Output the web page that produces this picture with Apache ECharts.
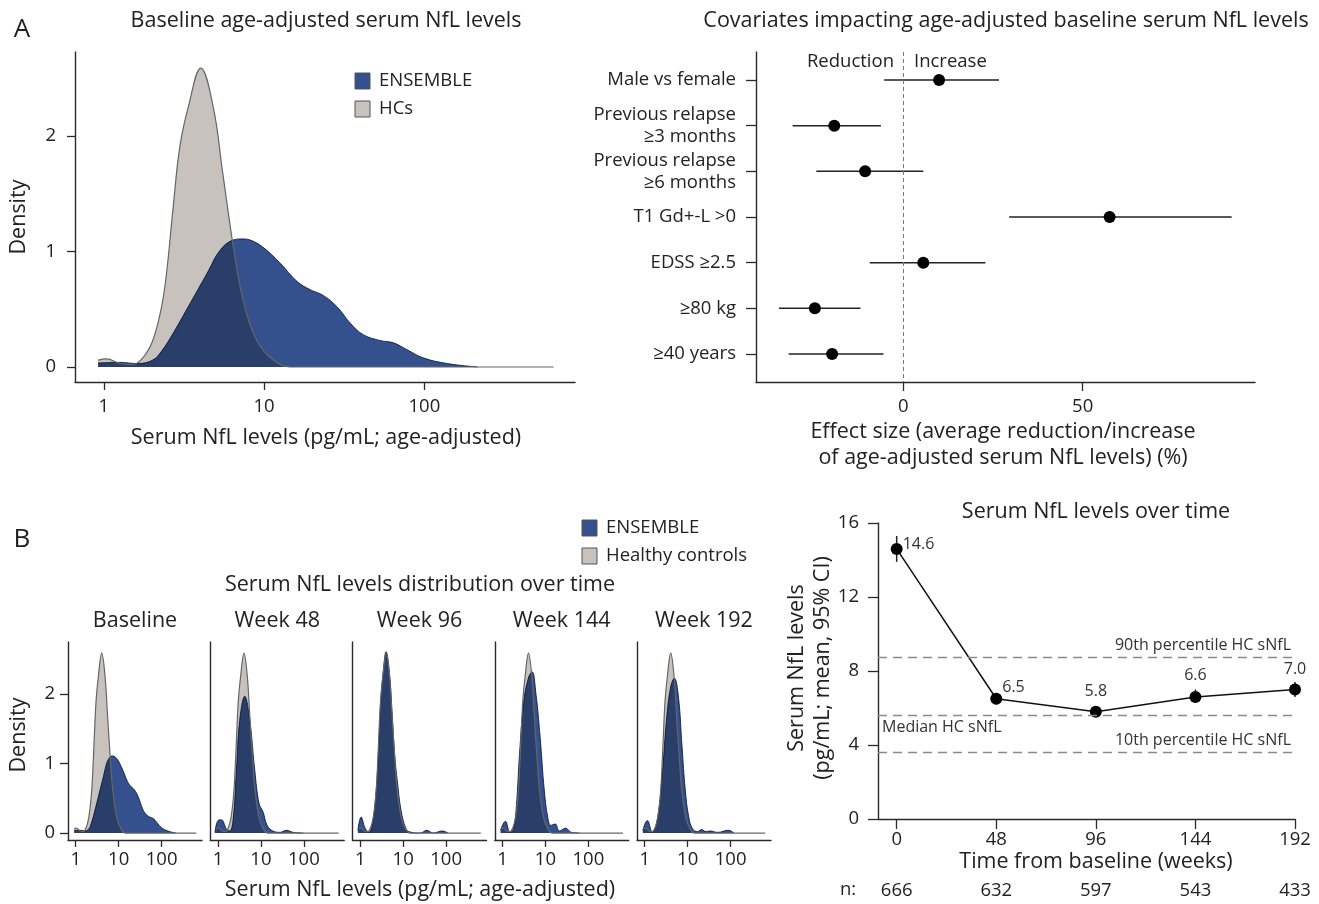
<!DOCTYPE html>
<html lang="en">
<head>
<meta charset="utf-8">
<title>Serum NfL levels</title>
<script src="https://cdn.jsdelivr.net/npm/echarts@6/dist/echarts.min.js"></script>
<style>
  html, body { margin: 0; background: #fff; }
  #box { width: 1319px; height: 904px; }
</style>
</head>
<body>
<div id="box"></div>
<script>
// ---- density curves, x = serum NfL (pg/mL), y = density ----
var hcNfl   = [0.92, 1.04, 1.26, 1.5, 1.75, 2.02, 2.29, 2.46, 2.71, 2.98, 3.36, 4.03, 4.82, 5.52, 6.43, 7.4, 9.0, 11.4, 14.5, 30, 640];
var hcDens  = [0.06, 0.07, 0.03, 0.02, 0.08, 0.23, 0.52, 0.81, 1.39, 1.91, 2.25, 2.59, 2.25, 1.68, 1.04, 0.58, 0.23, 0.06, 0.0, 0.0, 0.0];

var baseNfl  = [0.92, 1.26, 1.61, 2.02, 2.3, 2.7, 3.45, 4.4, 5.3, 6.4, 7.3, 8.2, 9.8, 12.6, 16.1, 19.4, 23.4, 28.6, 34.5, 41.6, 52.7, 64, 78, 98, 139, 215];
var baseDens = [0.035, 0.04, 0.03, 0.06, 0.14, 0.29, 0.55, 0.81, 1.01, 1.10, 1.11, 1.10, 1.04, 0.90, 0.74, 0.67, 0.62, 0.52, 0.38, 0.28, 0.23, 0.21, 0.15, 0.08, 0.03, 0.0];

var w48Nfl  = [0.85, 1.0, 1.2, 1.57, 1.87, 2.24, 2.68, 3.2, 4.2, 5.5, 7.2, 9.1, 11.3, 13.5, 17.6, 27.6, 39.6, 56, 97];
var w48Dens = [0.01, 0.18, 0.19, 0.06, 0.03, 0.18, 0.90, 1.62, 1.97, 1.62, 0.90, 0.42, 0.30, 0.13, 0.04, 0.01, 0.04, 0.01, 0.0];

var w96Nfl  = [0.88, 1.05, 1.3, 1.6, 2.0, 2.3, 2.5, 2.75, 3.0, 3.4, 4.0, 4.8, 5.5, 6.4, 7.4, 8.9, 11.5, 13.8, 25, 35.5, 50, 81, 110];
var w96Dens = [0.04, 0.23, 0.07, 0.01, 0.2, 0.55, 0.85, 1.4, 1.9, 2.3, 2.61, 2.3, 1.75, 1.1, 0.72, 0.33, 0.07, 0.02, 0.0, 0.04, 0.0, 0.03, 0.0];

var w144Nfl  = [0.9, 1.17, 1.5, 1.8, 2.1, 2.5, 3.1, 4.0, 4.9, 6.0, 7.5, 9.4, 11.3, 13.4, 17, 21, 29.5, 40, 62];
var w144Dens = [0.04, 0.17, 0.01, 0.05, 0.38, 1.15, 1.87, 2.23, 2.32, 2.01, 1.39, 0.62, 0.23, 0.11, 0.13, 0.03, 0.07, 0.01, 0.0];

var w192Nfl  = [0.9, 1.15, 1.5, 2.0, 2.6, 3.2, 4.0, 4.9, 6.1, 7.4, 8.8, 10.6, 13, 17, 21, 27, 33, 50, 89, 120];
var w192Dens = [0.04, 0.18, 0.01, 0.23, 0.9, 1.62, 2.1, 2.23, 1.96, 1.24, 0.62, 0.23, 0.06, 0.02, 0.05, 0.02, 0.03, 0.01, 0.04, 0.0];

var panelNames = ['Baseline', 'Week 48', 'Week 96', 'Week 144', 'Week 192'];
var logTicks = [0, 1, 2];       // 1, 10, 100
var densTicks = [0, 1, 2];

// ---- covariates (forest plot) ----
var covLabels = ['Male vs female', 'Previous relapse\n\u22653 months', 'Previous relapse\n\u22656 months',
                 'T1 Gd+-L >0', 'EDSS \u22652.5', '\u226580 kg', '\u226540 years'];
var covEffect = [10.0, -19.2, -10.6, 57.5, 5.6, -24.6, -19.8];
var covLow    = [-5.3, -30.8, -24.2, 29.5, -9.3, -34.6, -31.9];
var covHigh   = [26.7, -6.2, 5.6, 91.5, 22.9, -11.9, -5.5];

// ---- serum NfL over time ----
var weeks   = [0, 48, 96, 144, 192];
var meanNfl = [14.6, 6.5, 5.8, 6.6, 7.0];
var ciLow   = [13.9, 6.2, 5.6, 6.3, 6.6];
var ciHigh  = [15.3, 6.8, 6.0, 7.0, 7.4];
var nCounts = [666, 632, 597, 543, 433];
var hcRefVals  = [8.75, 5.6, 3.6];
var hcRefNames = ['90th percentile HC sNfL', 'Median HC sNfL', '10th percentile HC sNfL'];

var FONT = 'Open Sans';
var INK = '#222';
var BLUE = '#34518e', BLUE_EDGE = '#2a4274', GREY = '#c7c2bd', GREY_EDGE = '#666';
var TICK_FS = 18.5, TITLE_FS = 21.5;

function toXY(nfl, dens) {
    return nfl.map(function (v, i) { return [Math.log10(v), dens[i]]; });
}

function axisLineStyle() {
    return { show: true, onZero: false, lineStyle: { color: '#2a2a2a', width: 1.4 } };
}

function logXAxis(g, margin, tickLen) {
    return {
        type: 'value', gridIndex: g, min: -0.18, max: 2.94,
        axisLine: axisLineStyle(),
        axisTick: { show: true, customValues: logTicks, length: tickLen, lineStyle: { color: '#2a2a2a', width: 1.3 } },
        axisLabel: { customValues: logTicks, margin: margin, fontSize: TICK_FS, fontFamily: FONT, color: INK,
                     formatter: function (v) { return String(Math.round(Math.pow(10, v))); } },
        splitLine: { show: false }
    };
}

function densYAxis(g, min, max, showLabels, margin) {
    return {
        type: 'value', gridIndex: g, min: min, max: max,
        axisLine: axisLineStyle(),
        axisTick: { show: showLabels, customValues: densTicks, length: 8, lineStyle: { color: '#2a2a2a', width: 1.3 } },
        axisLabel: { show: showLabels, customValues: densTicks, margin: margin, fontSize: TICK_FS, fontFamily: FONT, color: INK },
        splitLine: { show: false }
    };
}

// HC fill underneath, ENSEMBLE multiplied over it, HC outline on top
function hcFill(g) {
    return {
        type: 'line', xAxisIndex: g, yAxisIndex: g, data: toXY(hcNfl, hcDens),
        smooth: 0.4, symbol: 'none', silent: true, z: 2,
        lineStyle: { width: 0 },
        areaStyle: { color: GREY, opacity: 1 }
    };
}
function hcEdge(g) {
    return {
        type: 'line', xAxisIndex: g, yAxisIndex: g, data: toXY(hcNfl, hcDens),
        smooth: 0.4, symbol: 'none', silent: true, z: 4,
        lineStyle: { color: GREY_EDGE, width: 1.2 }
    };
}
function ensSeries(g, nfl, dens) {
    return {
        type: 'line', xAxisIndex: g, yAxisIndex: g, data: toXY(nfl, dens),
        smooth: 0.4, symbol: 'none', silent: true, z: 3, blendMode: 'multiply',
        lineStyle: { color: BLUE_EDGE, width: 1 },
        areaStyle: { color: BLUE, opacity: 1 }
    };
}

// horizontal/vertical interval drawn through the axes
function intervalRenderer(horizontal, width) {
    return function (params, api) {
        var a, b;
        if (horizontal) {
            a = api.coord([api.value(1), api.value(0)]);
            b = api.coord([api.value(2), api.value(0)]);
        } else {
            a = api.coord([api.value(0), api.value(1)]);
            b = api.coord([api.value(0), api.value(2)]);
        }
        return { type: 'line', shape: { x1: a[0], y1: a[1], x2: b[0], y2: b[1] },
                 style: { stroke: '#222', lineWidth: width } };
    };
}

var smallLeft = [68, 210.25, 352.5, 494.75, 637];
var smallNfl  = [baseNfl, w48Nfl, w96Nfl, w144Nfl, w192Nfl];
var smallDens = [baseDens, w48Dens, w96Dens, w144Dens, w192Dens];

var grids = [
    { left: 75, top: 52, width: 500, height: 330 },
    { left: 756, top: 52, width: 499, height: 330 }
];
smallLeft.forEach(function (l) { grids.push({ left: l, top: 642, width: 134, height: 198 }); });
grids.push({ left: 878, top: 523, width: 417, height: 296 });

var xAxes = [logXAxis(0, 15, 8)];
var yAxes = [densYAxis(0, -0.13, 2.73, true, 19)];

// forest axes
xAxes.push({
    type: 'value', gridIndex: 1, min: -41, max: 98,
    axisLine: axisLineStyle(),
    axisTick: { customValues: [0, 50], length: 9, lineStyle: { color: '#2a2a2a', width: 1.3 } },
    axisLabel: { customValues: [0, 50], margin: 15, fontSize: TICK_FS, fontFamily: FONT, color: INK },
    splitLine: { show: false }
});
yAxes.push({
    type: 'value', gridIndex: 1, min: -0.613, max: 6.613, inverse: true,
    axisLine: axisLineStyle(),
    axisTick: { customValues: [0, 1, 2, 3, 4, 5, 6], length: 10, lineStyle: { color: '#2a2a2a', width: 1.3 } },
    axisLabel: { customValues: [0, 1, 2, 3, 4, 5, 6], margin: 20, fontSize: TICK_FS, lineHeight: 22,
                 fontFamily: FONT, color: INK, align: 'right',
                 formatter: function (v) { return covLabels[v]; } },
    splitLine: { show: false }
});

smallLeft.forEach(function (l, i) {
    xAxes.push(logXAxis(2 + i, 10, 7));
    yAxes.push(densYAxis(2 + i, -0.1, 2.75, i === 0, 13));
});

// time course axes
xAxes.push({
    type: 'value', gridIndex: 7, min: -9, max: 192,
    axisLine: axisLineStyle(),
    axisTick: { customValues: weeks, length: 10, lineStyle: { color: '#2a2a2a', width: 1.3 } },
    axisLabel: { customValues: weeks, margin: 11, fontSize: TICK_FS, fontFamily: FONT, color: INK },
    splitLine: { show: false }
});
xAxes.push({
    type: 'value', gridIndex: 7, min: -9, max: 192, position: 'bottom', offset: 55,
    axisLine: { show: false }, axisTick: { show: false }, splitLine: { show: false },
    axisLabel: { customValues: weeks, margin: 7, fontSize: TICK_FS, fontFamily: FONT, color: INK,
                 formatter: function (v) { return String(nCounts[weeks.indexOf(v)]); } }
});
yAxes.push({
    type: 'value', gridIndex: 7, min: 0, max: 16, interval: 4,
    axisLine: axisLineStyle(),
    axisTick: { length: 10, lineStyle: { color: '#2a2a2a', width: 1.3 } },
    axisLabel: { margin: 19, fontSize: TICK_FS, fontFamily: FONT, color: INK },
    splitLine: { show: false }
});

var series = [hcFill(0), ensSeries(0, baseNfl, baseDens), hcEdge(0)];
smallLeft.forEach(function (l, i) {
    series.push(hcFill(2 + i));
    series.push(ensSeries(2 + i, smallNfl[i], smallDens[i]));
    series.push(hcEdge(2 + i));
});

// forest plot
series.push({
    type: 'custom', xAxisIndex: 1, yAxisIndex: 1, silent: true,
    renderItem: intervalRenderer(true, 1.5),
    encode: { x: [1, 2], y: 0 },
    data: covLabels.map(function (c, i) { return [i, covLow[i], covHigh[i]]; })
});
series.push({
    type: 'scatter', xAxisIndex: 1, yAxisIndex: 1, silent: true, symbolSize: 12, z: 5,
    itemStyle: { color: '#000', opacity: 1 },
    data: covEffect.map(function (v, i) { return [v, i]; }),
    markLine: {
        silent: true, symbol: ['none', 'none'], label: { show: false },
        lineStyle: { color: '#777', type: [4, 3], width: 1 },
        data: [{ xAxis: 0 }]
    }
});

// serum NfL over time
series.push({
    type: 'custom', xAxisIndex: 7, yAxisIndex: 7, silent: true,
    renderItem: intervalRenderer(false, 1.5),
    encode: { x: 0, y: [1, 2] },
    data: weeks.map(function (w, i) { return [w, ciLow[i], ciHigh[i]]; })
});
var labelPlace = [
    { position: 'right', offset: [-5, -4] },
    { position: 'right', offset: [-5, -11] },
    { position: 'top', offset: [0, -1] },
    { position: 'top', offset: [0, -2] },
    { position: 'top', offset: [0, -1] }
];
series.push({
    type: 'line', xAxisIndex: 7, yAxisIndex: 7, silent: true,
    symbol: 'circle', symbolSize: 12, showSymbol: true,
    lineStyle: { color: '#111', width: 1.5 }, itemStyle: { color: '#000' },
    label: { show: true, fontSize: 16, fontFamily: FONT, color: '#333',
             formatter: function (p) { return p.value[1].toFixed(1); } },
    data: weeks.map(function (w, i) {
        return { value: [w, meanNfl[i]], label: labelPlace[i] };
    }),
    markLine: {
        silent: true, symbol: ['none', 'none'],
        lineStyle: { color: '#8a8a8a', type: [9, 6], width: 1.4 },
        label: { fontSize: 16, fontFamily: FONT, color: '#333', distance: 4 },
        data: hcRefVals.map(function (v, i) {
            return { yAxis: v, label: { formatter: hcRefNames[i],
                     position: i === 1 ? 'insideStartBottom' : 'insideEndTop' } };
        })
    }
});

function txt(x, y, s, size, align, rot) {
    return { type: 'text', x: x, y: y, rotation: rot || 0, silent: true,
             style: { text: s, fontSize: size, fontFamily: FONT, fill: INK,
                      align: align || 'center', verticalAlign: 'middle' } };
}
function swatch(x, y, fill) {
    return { type: 'rect', silent: true, shape: { x: x, y: y, width: 15, height: 16 },
             style: { fill: fill, stroke: '#555', lineWidth: 1 } };
}

var graphics = [
    txt(22, 30, 'A', 26),
    txt(326, 21, 'Baseline age-adjusted serum NfL levels', TITLE_FS),
    txt(1006, 21, 'Covariates impacting age-adjusted baseline serum NfL levels', TITLE_FS),
    swatch(355, 73, BLUE), txt(379, 81, 'ENSEMBLE', TICK_FS, 'left'),
    swatch(355, 101, GREY), txt(379, 109, 'HCs', TICK_FS, 'left'),
    txt(19, 217, 'Density', TITLE_FS, 'center', Math.PI / 2),
    txt(326, 438, 'Serum NfL levels (pg/mL; age-adjusted)', TITLE_FS),
    txt(894, 62, 'Reduction', TICK_FS, 'right'),
    txt(914, 62, 'Increase', TICK_FS, 'left'),
    txt(1003, 432, 'Effect size (average reduction/increase', TITLE_FS),
    txt(1003, 458, 'of age-adjusted serum NfL levels) (%)', TITLE_FS),
    txt(22, 540, 'B', 26),
    swatch(582, 520, BLUE), txt(606, 528, 'ENSEMBLE', TICK_FS, 'left'),
    swatch(582, 548, GREY), txt(606, 556, 'Healthy controls', TICK_FS, 'left'),
    txt(420, 585, 'Serum NfL levels distribution over time', TITLE_FS),
    txt(19, 735, 'Density', TITLE_FS, 'center', Math.PI / 2),
    txt(420, 890, 'Serum NfL levels (pg/mL; age-adjusted)', TITLE_FS),
    txt(1096, 512, 'Serum NfL levels over time', TITLE_FS),
    txt(797, 668, 'Serum NfL levels', TITLE_FS, 'center', Math.PI / 2),
    txt(823, 668, '(pg/mL; mean, 95% CI)', TITLE_FS, 'center', Math.PI / 2),
    txt(1096, 862, 'Time from baseline (weeks)', TITLE_FS),
    txt(848, 890, 'n:', TICK_FS)
];
panelNames.forEach(function (n, i) {
    graphics.push(txt(smallLeft[i] + 67, 621, n, TITLE_FS));
});

var myChart = echarts.init(document.getElementById('box'), null, { renderer: 'canvas' });
myChart.setOption({
    backgroundColor: '#fff',
    animation: false,
    textStyle: { fontFamily: FONT },
    grid: grids,
    xAxis: xAxes,
    yAxis: yAxes,
    series: series,
    graphic: graphics
});
</script>
</body>
</html>
